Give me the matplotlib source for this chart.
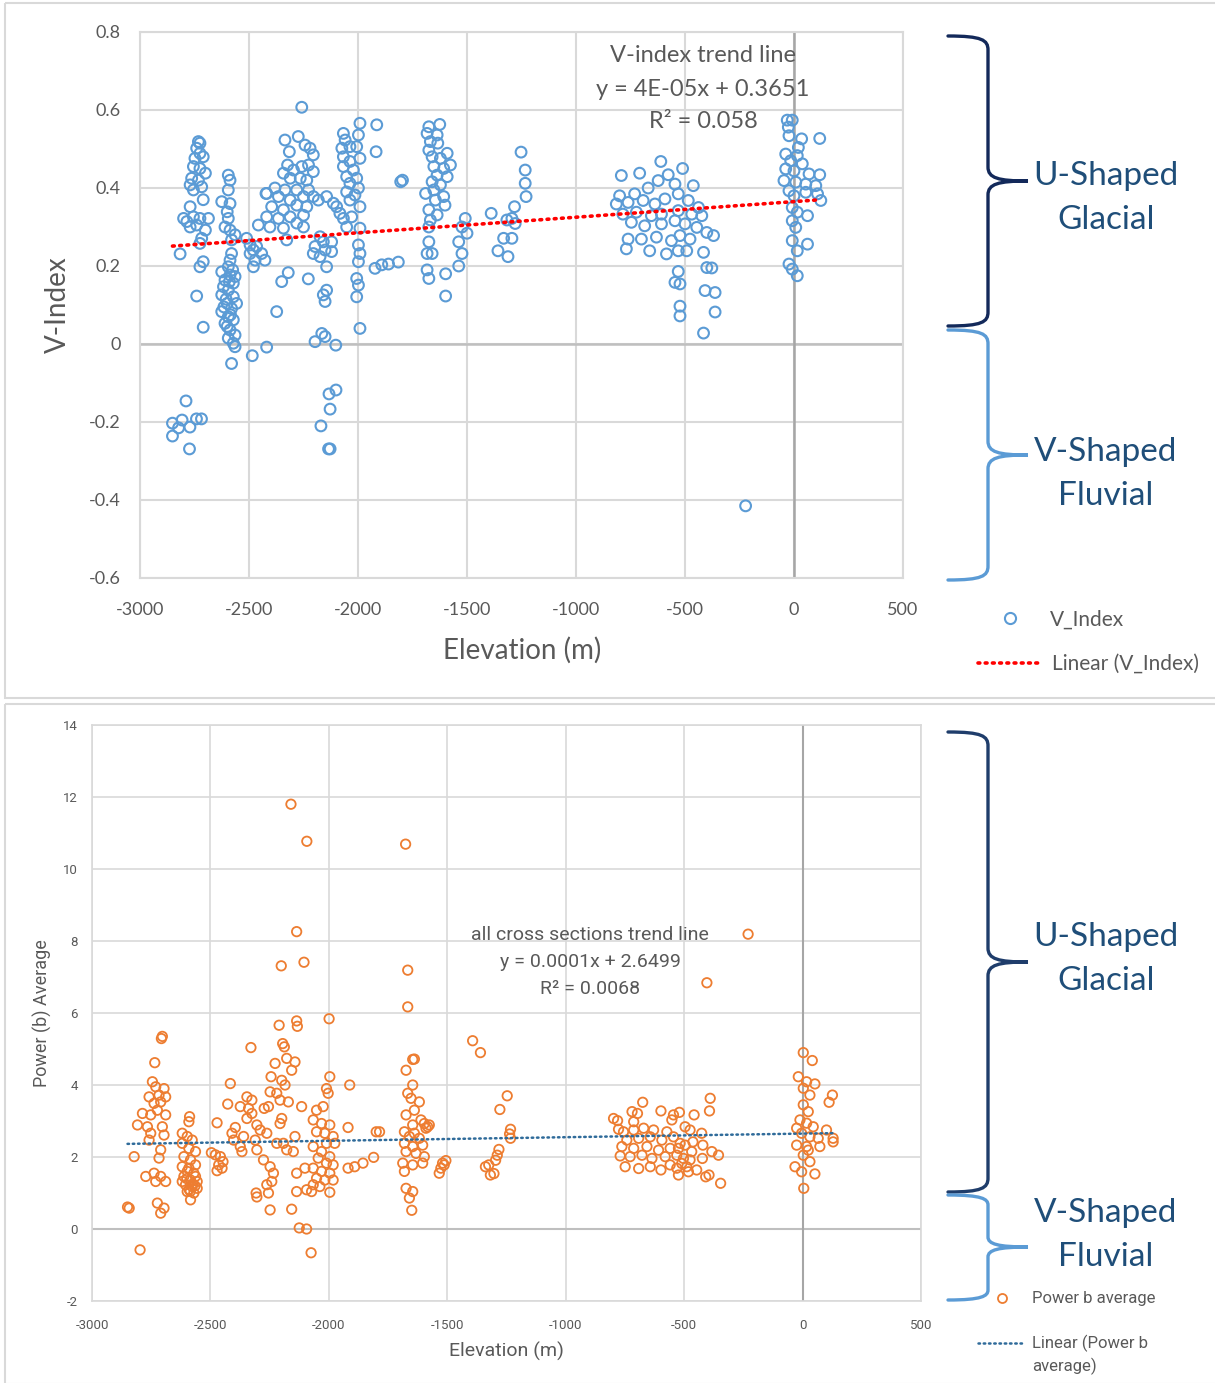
import numpy as np
import matplotlib
matplotlib.use("Agg")
import matplotlib.pyplot as plt
from matplotlib.path import Path
from matplotlib.patches import PathPatch, Rectangle
from matplotlib.lines import Line2D
from matplotlib.transforms import Affine2D

plt.rcParams['font.family'] = ['Lato', 'DejaVu Sans']

# ---------------- data: V-index vs elevation (top) ----------------
v_2800 = [(-2789, -0.146), (-2851, -0.203), (-2823, -0.215), (-2807, -0.195), (-2851, -0.236),
          (-2771, -0.213), (-2773, -0.269), (-2741, -0.192), (-2718, -0.192), (-2816, 0.231)]
v_2740 = [(-2732, 0.519), (-2725, 0.515), (-2740, 0.502), (-2725, 0.489), (-2748, 0.476), (-2710, 0.48),
          (-2755, 0.455), (-2725, 0.45), (-2700, 0.438), (-2763, 0.425), (-2732, 0.42), (-2770, 0.408),
          (-2717, 0.403), (-2755, 0.395), (-2710, 0.37), (-2770, 0.352), (-2800, 0.322), (-2785, 0.314),
          (-2755, 0.326), (-2725, 0.322), (-2686, 0.322), (-2770, 0.30), (-2740, 0.305), (-2700, 0.292),
          (-2717, 0.271), (-2725, 0.258), (-2710, 0.211), (-2725, 0.198), (-2740, 0.123), (-2710, 0.043)]
v_2600 = [(-2595, 0.433), (-2587, 0.42), (-2595, 0.395), (-2625, 0.365), (-2587, 0.36), (-2600, 0.339),
          (-2595, 0.322), (-2610, 0.30), (-2587, 0.292), (-2564, 0.28), (-2580, 0.267), (-2580, 0.232),
          (-2587, 0.215), (-2595, 0.198), (-2625, 0.185), (-2587, 0.177), (-2610, 0.164), (-2572, 0.156),
          (-2595, 0.138), (-2625, 0.126), (-2572, 0.121), (-2600, 0.104), (-2580, 0.091), (-2625, 0.083),
          (-2595, 0.07), (-2572, 0.062), (-2610, 0.053), (-2587, 0.036), (-2564, 0.023), (-2595, 0.015),
          (-2572, 0.002), (-2564, -0.007), (-2580, -0.05), (-2564, 0.173), (-2617, 0.147), (-2557, 0.104),
          (-2605, 0.115), (-2590, 0.16), (-2575, 0.19), (-2615, 0.095), (-2585, 0.075), (-2600, 0.045)]
v_2450 = [(-2511, 0.271), (-2495, 0.254), (-2480, 0.241), (-2465, 0.25), (-2442, 0.232), (-2495, 0.232),
          (-2472, 0.215), (-2427, 0.215), (-2480, 0.198), (-2457, 0.305), (-2422, 0.386), (-2485, -0.03),
          (-2419, -0.008), (-2373, 0.083)]
v_2300 = [(-2258, 0.607), (-2335, 0.523), (-2274, 0.532), (-2315, 0.493), (-2243, 0.51), (-2220, 0.502),
          (-2205, 0.485), (-2323, 0.459), (-2342, 0.438), (-2296, 0.446), (-2258, 0.455), (-2227, 0.459),
          (-2205, 0.442), (-2311, 0.425), (-2265, 0.425), (-2235, 0.42), (-2381, 0.40), (-2335, 0.395),
          (-2281, 0.395), (-2227, 0.395), (-2419, 0.386), (-2365, 0.378), (-2311, 0.369), (-2250, 0.378),
          (-2205, 0.378), (-2182, 0.369), (-2396, 0.352), (-2342, 0.344), (-2281, 0.356), (-2235, 0.352),
          (-2419, 0.326), (-2365, 0.322), (-2311, 0.326), (-2250, 0.33), (-2404, 0.30), (-2342, 0.297),
          (-2281, 0.31), (-2250, 0.30), (-2327, 0.267), (-2350, 0.16), (-2320, 0.183), (-2228, 0.167)]
v_2150 = [(-2144, 0.378), (-2113, 0.361), (-2098, 0.352), (-2083, 0.335), (-2067, 0.322), (-2174, 0.275),
          (-2159, 0.262), (-2197, 0.25), (-2151, 0.241), (-2205, 0.232), (-2174, 0.224), (-2121, 0.237),
          (-2144, 0.198), (-2121, 0.262), (-2144, 0.138), (-2159, 0.126), (-2151, 0.109), (-2166, 0.027),
          (-2197, 0.006), (-2151, 0.019), (-2102, -0.003), (-2101, -0.118), (-2133, -0.128), (-2128, -0.167),
          (-2170, -0.21), (-2135, -0.269), (-2128, -0.269)]
v_2000 = [(-1991, 0.566), (-2067, 0.54), (-2059, 0.523), (-1998, 0.536), (-2074, 0.502), (-2037, 0.506),
          (-2006, 0.506), (-2067, 0.48), (-2037, 0.468), (-1991, 0.476), (-2067, 0.455), (-2021, 0.446),
          (-2052, 0.429), (-2006, 0.425), (-2037, 0.412), (-1998, 0.40), (-2052, 0.39), (-2014, 0.382),
          (-2037, 0.369), (-1991, 0.352), (-2029, 0.326), (-2052, 0.30), (-1991, 0.297), (-1998, 0.254),
          (-1991, 0.232), (-1998, 0.211), (-2006, 0.168), (-1998, 0.151), (-2006, 0.121), (-1991, 0.04),
          (-1914, 0.562), (-1917, 0.493), (-1796, 0.42), (-1804, 0.416), (-1922, 0.194), (-1891, 0.203),
          (-1860, 0.205), (-1815, 0.21)]
v_1650 = [(-1675, 0.557), (-1625, 0.563), (-1683, 0.54), (-1637, 0.536), (-1668, 0.519), (-1634, 0.515),
          (-1675, 0.497), (-1591, 0.489), (-1660, 0.48), (-1622, 0.476), (-1576, 0.459), (-1652, 0.455),
          (-1607, 0.45), (-1591, 0.429), (-1637, 0.433), (-1660, 0.416), (-1622, 0.408), (-1652, 0.395),
          (-1690, 0.386), (-1607, 0.378), (-1645, 0.369), (-1601, 0.356), (-1675, 0.344), (-1637, 0.331),
          (-1668, 0.318), (-1675, 0.30), (-1508, 0.322), (-1523, 0.30), (-1500, 0.284), (-1538, 0.262),
          (-1675, 0.262), (-1683, 0.232), (-1660, 0.232), (-1523, 0.232), (-1538, 0.20), (-1683, 0.19),
          (-1675, 0.168), (-1598, 0.18), (-1598, 0.123)]
v_1300 = [(-1252, 0.492), (-1233, 0.446), (-1233, 0.412), (-1229, 0.378), (-1282, 0.352), (-1389, 0.335),
          (-1317, 0.318), (-1279, 0.309), (-1294, 0.322), (-1332, 0.271), (-1294, 0.271), (-1358, 0.239),
          (-1312, 0.224)]
v_550 = [(-792, 0.432), (-708, 0.438), (-611, 0.468), (-577, 0.434), (-511, 0.45), (-800, 0.38), (-731, 0.385),
         (-669, 0.40), (-623, 0.419), (-546, 0.41), (-462, 0.406), (-815, 0.359), (-761, 0.363), (-692, 0.368),
         (-638, 0.359), (-592, 0.372), (-531, 0.385), (-485, 0.368), (-438, 0.35), (-785, 0.333), (-723, 0.338),
         (-654, 0.329), (-608, 0.333), (-531, 0.342), (-469, 0.333), (-423, 0.329), (-746, 0.312), (-685, 0.303),
         (-608, 0.308), (-546, 0.316), (-500, 0.308), (-446, 0.299), (-400, 0.286), (-369, 0.278), (-761, 0.269),
         (-700, 0.269), (-631, 0.274), (-562, 0.265), (-523, 0.278), (-477, 0.269), (-769, 0.244), (-662, 0.239),
         (-585, 0.231), (-531, 0.239), (-492, 0.239), (-415, 0.235), (-400, 0.196), (-377, 0.195), (-531, 0.186),
         (-546, 0.158), (-523, 0.154), (-408, 0.137), (-362, 0.132), (-523, 0.097), (-523, 0.072), (-362, 0.082),
         (-415, 0.028), (-222, -0.415)]
v_0 = [(-31, 0.574), (-8, 0.574), (-26, 0.556), (-23, 0.534), (35, 0.526), (118, 0.527), (20, 0.504),
       (-38, 0.487), (15, 0.483), (-15, 0.47), (38, 0.462), (-38, 0.449), (0, 0.444), (69, 0.436), (118, 0.434),
       (-46, 0.419), (8, 0.415), (54, 0.41), (100, 0.406), (-23, 0.393), (54, 0.389), (108, 0.385), (0, 0.38),
       (123, 0.368), (-8, 0.35), (15, 0.338), (-8, 0.316), (62, 0.329), (8, 0.299), (-8, 0.265), (15, 0.239),
       (62, 0.256), (-23, 0.205), (-8, 0.192), (15, 0.175)]

# ---------------- data: power b average vs elevation (bottom) ----------------
b_2750 = [(-2703, 5.35), (-2707, 5.29), (-2735, 4.62), (-2745, 4.09), (-2731, 3.95), (-2696, 3.90), (-2759, 3.67),
          (-2717, 3.72), (-2689, 3.67), (-2738, 3.49), (-2710, 3.53), (-2724, 3.30), (-2689, 3.17), (-2752, 3.17),
          (-2787, 3.21), (-2808, 2.89), (-2766, 2.84), (-2752, 2.66), (-2759, 2.47), (-2703, 2.84), (-2696, 2.61),
          (-2710, 2.20), (-2717, 1.97), (-2822, 2.01), (-2773, 1.46), (-2738, 1.55), (-2710, 1.46), (-2689, 1.32),
          (-2731, 1.32), (-2724, 0.72), (-2696, 0.58), (-2710, 0.44), (-2843, 0.58), (-2850, 0.61), (-2797, -0.58)]
b_2600 = [(-2588, 3.12), (-2591, 2.98), (-2619, 2.66), (-2598, 2.57), (-2577, 2.47), (-2619, 2.38), (-2591, 2.24),
          (-2563, 2.15), (-2612, 2.01), (-2584, 1.92), (-2563, 1.78), (-2619, 1.73), (-2598, 1.60), (-2570, 1.55),
          (-2612, 1.46), (-2584, 1.36), (-2556, 1.32), (-2605, 1.23), (-2577, 1.18), (-2556, 1.13), (-2598, 1.04),
          (-2570, 1.00), (-2584, 0.81), (-2619, 1.32), (-2563, 1.46), (-2591, 1.69), (-2590, 1.10), (-2575, 1.25),
          (-2600, 1.40), (-2585, 1.05), (-2565, 1.20)]
b_2450 = [(-2496, 2.12), (-2479, 2.06), (-2458, 2.01), (-2447, 1.87), (-2465, 1.78), (-2451, 1.69), (-2472, 1.62),
          (-2472, 2.95)]
b_2250 = [(-2416, 4.04), (-2427, 3.47), (-2395, 2.82), (-2409, 2.66), (-2402, 2.47), (-2374, 2.29), (-2367, 2.15),
          (-2346, 3.67), (-2325, 3.58), (-2374, 3.40), (-2339, 3.35), (-2325, 3.21), (-2346, 3.07), (-2360, 2.57),
          (-2304, 2.89), (-2290, 2.75), (-2262, 2.66), (-2304, 2.20), (-2311, 2.47), (-2276, 1.92), (-2248, 1.73),
          (-2234, 1.55), (-2241, 1.32), (-2262, 1.23), (-2307, 1.00), (-2304, 0.89), (-2255, 1.00), (-2248, 0.53),
          (-2329, 5.04), (-2244, 4.23), (-2248, 3.81), (-2255, 3.40), (-2273, 3.35), (-2227, 4.60), (-2210, 5.66),
          (-2195, 5.15), (-2188, 5.06), (-2178, 4.74), (-2157, 4.41), (-2143, 4.64), (-2199, 4.13), (-2185, 4.00),
          (-2220, 3.77), (-2206, 3.58), (-2171, 3.53), (-2199, 3.07), (-2206, 2.93), (-2220, 2.38), (-2192, 2.38),
          (-2178, 2.20), (-2143, 2.57), (-2115, 3.40), (-2150, 2.15), (-2136, 1.04), (-2136, 1.55), (-2157, 0.55),
          (-2136, 5.78), (-2133, 5.63), (-2125, 0.03), (-2094, 0.0), (-2160, 11.8), (-2093, 10.77), (-2136, 8.26),
          (-2201, 7.31), (-2105, 7.41), (-2075, -0.66)]
b_2000 = [(-1996, 4.23), (-2010, 3.90), (-2003, 3.77), (-2052, 3.30), (-2024, 3.40), (-2066, 3.03), (-2031, 2.93),
          (-1996, 2.89), (-2052, 2.70), (-2017, 2.66), (-1982, 2.57), (-2066, 2.29), (-2031, 2.15), (-1996, 2.01),
          (-2045, 1.97), (-2010, 1.83), (-1982, 1.78), (-2066, 1.69), (-2031, 1.60), (-1996, 1.55), (-2052, 1.41),
          (-2017, 1.36), (-1982, 1.36), (-2066, 1.23), (-2038, 1.18), (-2073, 1.04), (-1996, 1.02), (-2094, 1.09),
          (-2101, 1.69), (-1975, 2.38), (-2010, 2.38), (-1999, 5.84), (-1919, 2.82), (-1919, 1.69), (-1891, 1.73),
          (-1856, 1.83), (-1811, 1.99), (-1912, 4.00), (-1800, 2.70), (-1786, 2.70)]
b_1650 = [(-1667, 6.17), (-1639, 4.72), (-1646, 4.71), (-1674, 4.41), (-1646, 4.00), (-1667, 3.77), (-1653, 3.63),
          (-1618, 3.53), (-1639, 3.30), (-1674, 3.17), (-1611, 3.03), (-1646, 2.89), (-1597, 2.93), (-1583, 2.84),
          (-1681, 2.70), (-1639, 2.66), (-1660, 2.57), (-1618, 2.52), (-1681, 2.38), (-1646, 2.29), (-1604, 2.33),
          (-1674, 2.15), (-1632, 2.10), (-1597, 2.01), (-1688, 1.83), (-1646, 1.78), (-1681, 1.60), (-1604, 1.83),
          (-1674, 1.13), (-1646, 1.04), (-1660, 0.86), (-1650, 0.52), (-1576, 2.89), (-1590, 2.80), (-1676, 10.69),
          (-1667, 7.19), (-1506, 1.90), (-1520, 1.83), (-1527, 1.69), (-1534, 1.55), (-1513, 1.78)]
b_1300 = [(-1393, 5.23), (-1360, 4.90), (-1247, 3.70), (-1278, 3.32), (-1233, 2.77), (-1237, 2.64), (-1233, 2.52),
          (-1282, 2.21), (-1289, 2.05), (-1296, 1.91), (-1325, 1.78), (-1339, 1.73), (-1318, 1.50), (-1303, 1.54)]
b_550 = [(-798, 3.07), (-781, 3.01), (-777, 2.77), (-720, 3.26), (-697, 3.21), (-675, 3.52), (-598, 3.28),
         (-713, 2.98), (-545, 3.17), (-520, 3.24), (-552, 3.03), (-458, 3.17), (-390, 3.63), (-393, 3.28),
         (-756, 2.70), (-713, 2.75), (-671, 2.80), (-629, 2.75), (-573, 2.70), (-496, 2.84), (-475, 2.75),
         (-426, 2.66), (-742, 2.47), (-692, 2.52), (-643, 2.56), (-594, 2.47), (-545, 2.56), (-517, 2.38),
         (-463, 2.42), (-421, 2.33), (-763, 2.29), (-713, 2.24), (-657, 2.29), (-608, 2.19), (-559, 2.24),
         (-524, 2.24), (-496, 2.33), (-468, 2.15), (-383, 2.15), (-355, 2.05), (-770, 2.03), (-728, 2.01),
         (-678, 2.05), (-636, 1.96), (-580, 2.01), (-531, 2.05), (-503, 1.96), (-475, 1.92), (-423, 1.96),
         (-749, 1.73), (-692, 1.68), (-643, 1.73), (-598, 1.64), (-559, 1.78), (-524, 1.50), (-489, 1.73),
         (-447, 1.64), (-395, 1.50), (-531, 1.69), (-510, 1.82), (-482, 1.59), (-409, 1.45), (-346, 1.27),
         (-230, 8.19), (-404, 6.84)]
b_0 = [(3, 4.90), (41, 4.68), (-18, 4.23), (17, 4.09), (52, 4.03), (3, 3.91), (31, 3.72), (126, 3.72), (112, 3.52),
       (3, 3.45), (24, 3.26), (-11, 3.03), (17, 2.94), (-25, 2.80), (45, 2.84), (101, 2.75), (-4, 2.66), (31, 2.56),
       (66, 2.52), (129, 2.52), (-25, 2.33), (17, 2.29), (73, 2.29), (129, 2.42), (3, 2.05), (31, 1.87), (-32, 1.73),
       (-4, 1.59), (52, 1.53), (5, 1.13), (24, 2.19)]

v_slope, v_icept = 4e-05, 0.3651
b_slope, b_icept = 0.0001, 2.6499
x_ticks = list(range(-3000, 501, 500))
v_ticks = [-0.6, -0.4, -0.2, 0, 0.2, 0.4, 0.6, 0.8]
b_ticks = [-2, 0, 2, 4, 6, 8, 10, 12, 14]

v_pts = np.array(v_2800 + v_2740 + v_2600 + v_2450 + v_2300 + v_2150 + v_2000 + v_1650 + v_1300 + v_550 + v_0)
b_pts = np.array(b_2750 + b_2600 + b_2450 + b_2250 + b_2000 + b_1650 + b_1300 + b_550 + b_0)

# ---------------- figure ----------------
W, H = 1215, 1383
fig = plt.figure(figsize=(W / 100, H / 100), dpi=100)
px = Affine2D().scale(1 / W, -1 / H).translate(0, 1) + fig.transFigure


def box(l, t, r, b):
    return [l / W, 1 - b / H, (r - l) / W, (b - t) / H]


def style(ax, ylim, yticks, fs, pad, font, gw):
    ax.set_xlim(-3000, 500)
    ax.set_ylim(*ylim)
    ax.set_xticks(x_ticks, labels=[str(t) for t in x_ticks], family=font)
    ax.set_yticks(yticks, labels=[f'{round(t, 1) + 0:g}' for t in yticks], family=font)
    ax.grid(True, color='#d9d9d9', lw=gw)
    ax.set_axisbelow(True)
    for s in ax.spines.values():
        s.set_color('#d9d9d9')
        s.set_linewidth(gw)
    ax.tick_params(length=0, labelsize=fs, labelcolor='#595959', pad=pad)
    ax.tick_params(axis='x', pad=pad + 3)
    ax.axhline(0, color='#bfbfbf', lw=gw + 0.3, zorder=1)
    ax.axvline(0, color='#a6a6a6', lw=gw + 0.3, zorder=1)


def brace(x0, xv, xt, ytop, ytip, ybot, color, r=14):
    verts = [(x0, ytop), (xv - 6, ytop), (xv, ytop + 4), (xv, ytop + r),
             (xv, ytip - r),
             (xv, ytip - 3), (xv + 10, ytip), (xt, ytip),
             (xv + 10, ytip), (xv, ytip + 3), (xv, ytip + r),
             (xv, ybot - r),
             (xv, ybot - 4), (xv - 6, ybot), (x0, ybot)]
    codes = [Path.MOVETO, Path.CURVE4, Path.CURVE4, Path.CURVE4, Path.LINETO,
             Path.CURVE4, Path.CURVE4, Path.CURVE4, Path.CURVE4, Path.CURVE4, Path.CURVE4,
             Path.LINETO, Path.CURVE4, Path.CURVE4, Path.CURVE4]
    fig.add_artist(PathPatch(Path(verts, codes), fill=False, edgecolor=color, lw=2.4,
                             transform=px, capstyle='round'))


# panel frames
fig.add_artist(Rectangle((5, 3), 1212, 695, fill=False, edgecolor='#d9d9d9', lw=1.5, transform=px))
fig.add_artist(Rectangle((5, 704), 1212, 680, fill=False, edgecolor='#d9d9d9', lw=1.5, transform=px))

dark, light, lab = '#13295a', '#5b9bd5', '#1f4e79'

# ---- top panel ----
ax1 = fig.add_axes(box(140, 32, 903, 578))
style(ax1, (-0.6, 0.8), v_ticks, 13, 14, 'Lato', 1.5)
ax1.scatter(v_pts[:, 0], v_pts[:, 1], s=60, facecolors='none', edgecolors='#5b9bd5', linewidths=1.5, zorder=3)
xs = np.array([v_pts[:, 0].min(), v_pts[:, 0].max()])
ax1.plot(xs, v_slope * xs + v_icept, color='#ff0000', lw=2.6, ls=(0, (0.5, 1.5)),
         dash_capstyle='round', zorder=4)

fig.text(522, 650, 'Elevation (m)', transform=px, ha='center', va='center', fontsize=20, color='#595959')
fig.text(58, 305, 'V-Index', transform=px, ha='center', va='center', rotation=90, fontsize=20, color='#595959')
for y, s in [(56, 'V-index trend line'), (90, 'y = 4E-05x + 0.3651'), (122, 'R² = 0.058')]:
    fig.text(703, y, s, transform=px, ha='center', va='center', fontsize=17, color='#595959')

brace(948, 988, 1028, 36, 181, 326, dark)
brace(948, 988, 1028, 330, 455, 580, light)
fig.text(1106, 198, 'U-Shaped\nGlacial', transform=px, ha='center', va='center', fontsize=24,
         color=lab, linespacing=1.55)
fig.text(1106, 474, 'V-Shaped\nFluvial', transform=px, ha='center', va='center', fontsize=24,
         color=lab, linespacing=1.55)

fig.add_artist(Line2D([1010], [618], marker='o', ms=8, mfc='none', mec='#5b9bd5', mew=1.5, transform=px))
fig.add_artist(Line2D([978, 1043], [663, 663], color='#ff0000', lw=2.6, ls=(0, (0.5, 1.5)),
                      dash_capstyle='round', transform=px))
fig.text(1050, 620, 'V_Index', transform=px, va='center', fontsize=15, color='#595959')
fig.text(1052, 664, 'Linear (V_Index)', transform=px, va='center', fontsize=15, color='#595959')

# ---- bottom panel ----
ax2 = fig.add_axes(box(92, 725, 921, 1301))
style(ax2, (-2, 14), b_ticks, 9.5, 10, 'Roboto', 1.2)
ax2.scatter(b_pts[:, 0], b_pts[:, 1], s=46, facecolors='none', edgecolors='#ed7d31', linewidths=1.3, zorder=3)
xs = np.array([b_pts[:, 0].min(), b_pts[:, 0].max()])
ax2.plot(xs, b_slope * xs + b_icept, color='#2f6b9a', lw=1.8, ls=(0, (0.6, 1.5)),
         dash_capstyle='round', zorder=4)

fig.text(506, 1351, 'Elevation (m)', transform=px, ha='center', va='center', fontsize=14,
         color='#595959', family='Roboto')
fig.text(42, 1013, 'Power (b) Average', transform=px, ha='center', va='center', rotation=90,
         fontsize=13, color='#595959', family='Roboto')
for y, s in [(935, 'all cross sections trend line'), (962, 'y = 0.0001x + 2.6499'), (989, 'R² = 0.0068')]:
    fig.text(590, y, s, transform=px, ha='center', va='center', fontsize=14, color='#595959', family='Roboto')

brace(948, 988, 1028, 732, 962, 1192, '#1f3d6b')
brace(948, 988, 1028, 1195, 1247, 1300, light, r=10)
fig.text(1106, 959, 'U-Shaped\nGlacial', transform=px, ha='center', va='center', fontsize=24,
         color=lab, linespacing=1.55)
fig.text(1106, 1235, 'V-Shaped\nFluvial', transform=px, ha='center', va='center', fontsize=24,
         color=lab, linespacing=1.55)

fig.add_artist(Line2D([1002], [1298], marker='o', ms=6.5, mfc='none', mec='#ed7d31', mew=1.3, transform=px))
fig.add_artist(Line2D([978, 1022], [1343, 1343], color='#2f6b9a', lw=1.8, ls=(0, (0.6, 1.5)),
                      dash_capstyle='round', transform=px))
fig.text(1032, 1299, 'Power b average', transform=px, va='center', fontsize=12, color='#595959', family='Roboto')
fig.text(1032, 1343, 'Linear (Power b', transform=px, va='center', fontsize=12, color='#595959', family='Roboto')
fig.text(1032, 1366, 'average)', transform=px, va='center', fontsize=12, color='#595959', family='Roboto')

fig.savefig('out.png', dpi=100)
